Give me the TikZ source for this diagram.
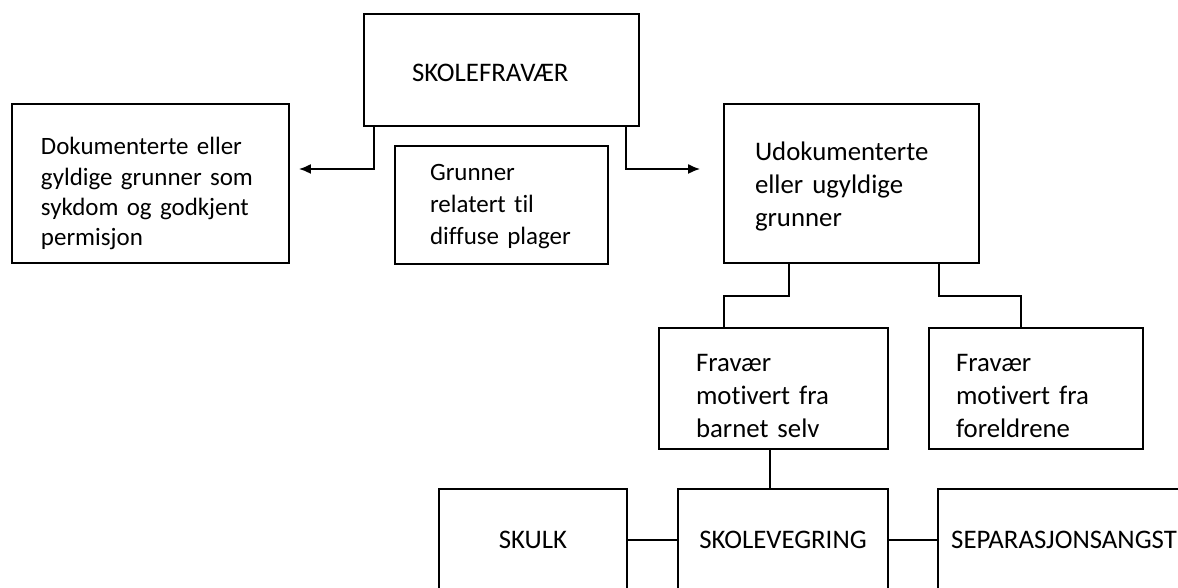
\documentclass[tikz,border=0pt]{standalone}
\usepackage{fontspec}
\setmainfont{Carlito}[Ligatures=NoCommon]
\usepackage{tikz}
\usetikzlibrary{arrows.meta}
\newcommand{\bigtxt}{\fontsize{15.25}{18.5}\selectfont}
\newcommand{\smalltxt}{\fontsize{14.2}{17.1}\selectfont}
\newcommand{\midtxt}{\fontsize{14.2}{18.2}\selectfont}
\tikzset{
  boks/.style={draw, line width=1pt, align=left, inner sep=0pt, font=\bigtxt},
  hev/.style={text height=0pt, text depth=#1},
  pil/.style={line width=1pt, -{Latex[length=2.4mm,width=2mm]}},
  linje/.style={line width=1pt}
}

\begin{document}
\begin{tikzpicture}

\useasboundingbox (0,0) rectangle (23.56,11.76);
\clip (0,0) rectangle (23.56,11.76);

\node[boks, text height=0.48cm, text depth=0pt, minimum width=5.5cm, minimum height=2.24cm, text width=3.58cm] (top) at (10.03,10.36) {SKOLEFRAVÆR};
\node[boks, hev=1.14cm, minimum width=5.54cm, minimum height=3.18cm, text width=4.38cm, font=\smalltxt] (dok) at (3.01,8.09) {Dokumenterte~eller\\ gyldige~grunner~som\\ sykdom~og~godkjent\\ permisjon};
\node[boks, hev=0.96cm, minimum width=4.26cm, minimum height=2.36cm, text width=2.86cm, font=\midtxt] (diffus) at (10.03,7.66) {Grunner\\ relatert~til\\ diffuse~plager};
\node[boks, hev=0.9cm, minimum width=5.1cm, minimum height=3.18cm, text width=3.86cm] (udok) at (17.03,8.09) {Udokumenterte\\ eller~ugyldige\\ grunner};
\node[boks, hev=0.66cm, minimum width=4.58cm, minimum height=2.42cm, text width=3.1cm] (barnet) at (15.47,3.99) {Fravær\\ motivert~fra\\ barnet~selv};
\node[boks, hev=0.66cm, minimum width=4.28cm, minimum height=2.42cm, text width=3.2cm] (foreldre) at (20.72,3.99) {Fravær\\ motivert~fra\\ foreldrene};
\node[boks, minimum width=3.76cm, minimum height=2.04cm, align=center] (skulk) at (10.66,0.96) {SKULK};
\node[boks, minimum width=4.2cm, minimum height=2.04cm, align=center] (vegring) at (15.66,0.96) {SKOLEVEGRING};
\node[boks, minimum width=5.04cm, minimum height=2.04cm, align=center] (separ) at (21.28,0.96) {SEPARASJONSANGST};

\draw[pil] ([xshift=0.22cm]top.south west) |- ([xshift=0.18cm,yshift=0.29cm]dok.east);
\draw[pil] ([xshift=-0.28cm]top.south east) |- ([xshift=-0.46cm,yshift=0.29cm]udok.west);
\draw[linje] ([xshift=-1.25cm]udok.south) -- ++(0,-0.64) -| ([xshift=-0.99cm]barnet.north);
\draw[linje] ([xshift=1.75cm]udok.south) -- ++(0,-0.64) -| ([xshift=-0.3cm]foreldre.north);
\draw[linje] ([xshift=-0.07cm]barnet.south) -- ([xshift=-0.26cm]vegring.north);
\draw[linje] (skulk.east) -- (vegring.west);
\draw[linje] (vegring.east) -- (separ.west);
\end{tikzpicture}
\end{document}
